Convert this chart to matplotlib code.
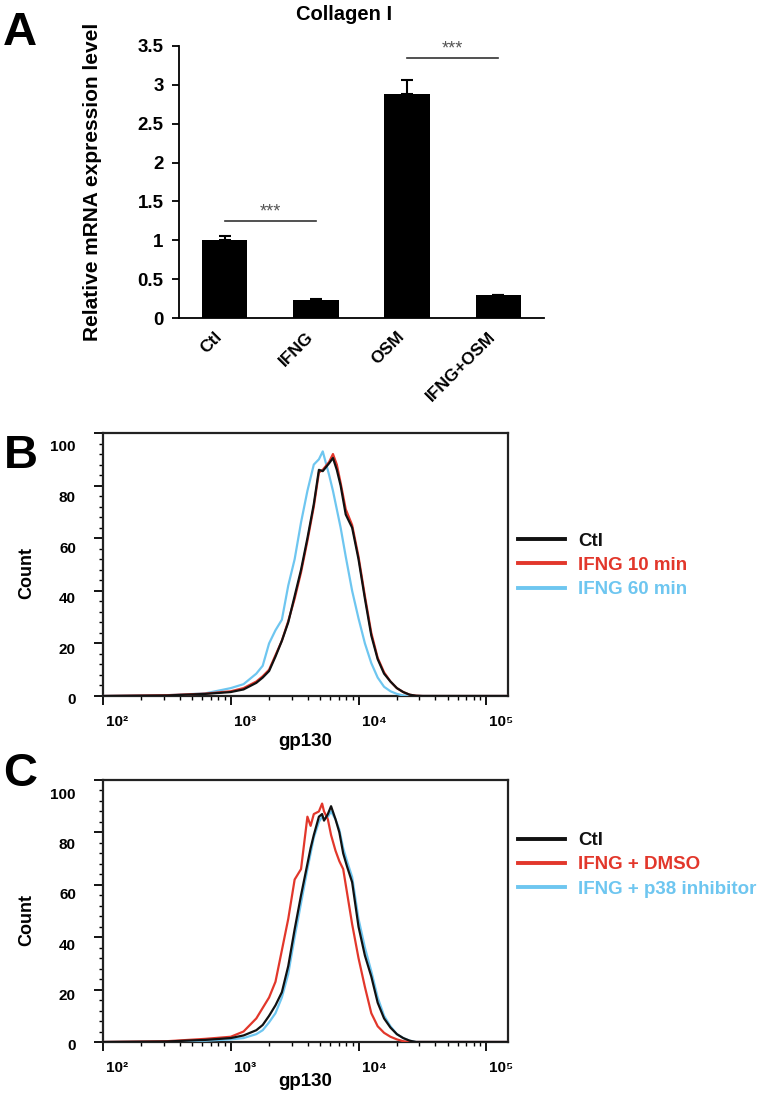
import matplotlib.pyplot as plt
import matplotlib.transforms as mtransforms
import numpy as np
from matplotlib.ticker import MultipleLocator, LogLocator, NullFormatter

plt.rcParams["font.family"] = ["Liberation Sans", "DejaVu Sans"]
plt.rcParams["font.weight"] = "bold"
plt.rcParams["axes.labelweight"] = "bold"

# ---- panel A: collagen I qPCR ----
GROUPS = ["Ctl", "IFNG", "OSM", "IFNG+OSM"]
COLLAGEN = [1.0, 0.23, 2.88, 0.29]
COLLAGEN_ERR = [0.05, 0.02, 0.18, 0.01]
A_YTICKS = [0, 0.5, 1, 1.5, 2, 2.5, 3, 3.5]
A_YLABELS = ["0", "0.5", "1", "1.5", "2", "2.5", "3", "3.5"]
SIG_PAIRS = [(0, 1, 1.25), (2, 3, 3.35)]  # (group a, group b, bar height)

# ---- panel B: gp130 flow histograms ----
B_LOG_GP130 = [2.0, 2.5, 2.8, 3.0, 3.1, 3.2, 3.25, 3.3, 3.35, 3.4, 3.45, 3.5,
               3.55, 3.6, 3.65, 3.69, 3.72, 3.745, 3.77, 3.8, 3.83, 3.86, 3.9,
               3.95, 4.0, 4.05, 4.1, 4.15, 4.2, 4.25, 4.3, 4.35, 4.4, 4.45,
               4.5, 5.17]
B_CTL = [0, 0.2, 0.8, 1.5, 2.5, 5, 7, 9.5, 15, 21, 28, 38, 48, 60, 73, 86,
         85.5, 87, 88.5, 90.5, 86, 80, 69, 64, 52, 37, 23, 14, 8.5, 5.5, 3,
         1.5, 0.5, 0.1, 0, 0]
B_10MIN = [0, 0.3, 0.9, 1.8, 3, 5.5, 7.5, 10, 15.5, 21, 28.5, 37, 47, 59, 72,
           85, 86, 87.5, 89, 92, 88, 81, 71, 65, 53, 38, 24, 14.5, 9, 5.5, 3,
           1.5, 0.5, 0.1, 0, 0]
B_60MIN = [0, 0.3, 1, 3, 4.5, 8.5, 11.5, 20, 25, 29, 42, 52, 66, 78, 88, 90,
           93, 88.5, 84, 78, 71, 64, 53, 40, 29.5, 20, 12.5, 7, 3.5, 1.8, 0.8,
           0.2, 0, 0, 0, 0]
B_LABELS = ["Ctl", "IFNG 10 min", "IFNG 60 min"]

# ---- panel C: gp130 flow histograms, p38 inhibitor ----
C_LOG_GP130 = [2.0, 2.5, 2.8, 3.0, 3.1, 3.2, 3.25, 3.3, 3.35, 3.4, 3.45, 3.5,
               3.55, 3.6, 3.625, 3.65, 3.69, 3.715, 3.73, 3.76, 3.785, 3.82,
               3.85, 3.88, 3.91, 3.95, 4.0, 4.05, 4.1, 4.15, 4.2, 4.25, 4.3,
               4.35, 4.4, 4.45, 5.17]
C_CTL = [0, 0.2, 0.8, 1.5, 2.5, 4.5, 6.5, 10, 14, 19, 29, 43, 56, 68, 74, 79,
         86, 87, 84.5, 87, 90, 85, 80, 72, 67, 61, 44, 33, 25, 15, 9, 5.5, 3,
         1.5, 0.5, 0, 0]
C_DMSO = [0, 0.3, 1.2, 2, 4, 9, 13, 17, 23, 35, 47, 62, 66, 86, 82.5, 87, 88,
          91, 88, 85, 79, 73, 69, 66, 57, 45, 32, 21, 11, 6, 3.5, 2, 1, 0.3,
          0, 0, 0]
C_P38 = [0, 0.1, 0.5, 1, 1.5, 3, 4.5, 7.5, 11, 17, 26, 40, 53, 66, 72, 78, 84,
         86, 85, 86, 88, 85, 81, 74, 69, 63, 47, 36, 27, 17, 10, 6, 3, 1.5,
         0.5, 0, 0]
C_LABELS = ["Ctl", "IFNG + DMSO", "IFNG + p38 inhibitor"]

COLORS = ["#111111", "#E2372B", "#6EC6F0"]
FLOW_YTICKS = [0, 20, 40, 60, 80, 100]
FLOW_XTICKS = [1e2, 1e3, 1e4, 1e5]
FLOW_XLABELS = ["10²", "10³", "10⁴", "10⁵"]

W, H = 762, 1097
fig = plt.figure(figsize=(W / 100, H / 100), dpi=100)


def px_box(x0, y0, x1, y1):
    return [x0 / W, 1 - y1 / H, (x1 - x0) / W, (y1 - y0) / H]


# ---------------- A ----------------
ax = fig.add_axes(px_box(179, 46, 544, 318))
x = np.arange(len(GROUPS))
ax.bar(x, COLLAGEN, width=0.5, color="black")
ax.errorbar(x, COLLAGEN, yerr=[np.zeros(len(x)), COLLAGEN_ERR], fmt="none",
            ecolor="black", elinewidth=1.5, capsize=4, capthick=1.5)
ax.set_xlim(-0.5, 3.5)
ax.set_ylim(0, 3.5)
ax.spines[["top", "right"]].set_visible(False)
for s in ("left", "bottom"):
    ax.spines[s].set_linewidth(1.3)
ax.set_yticks(A_YTICKS, A_YLABELS, fontsize=13.5)
ax.tick_params(axis="y", direction="out", length=5, width=1.3, pad=6)
ax.set_xticks(x, GROUPS, rotation=45, ha="right", fontsize=12.5)
ax.tick_params(axis="x", length=0, pad=8)
ax.set_ylabel("Relative mRNA expression level", fontsize=15)
ax.yaxis.set_label_coords(-0.211, 0.5)
for a, b, h in SIG_PAIRS:
    ax.plot([a, b], [h, h], color="#333333", lw=1.2)
    ax.text((a + b) / 2, h + 0.11, "***", ha="center", va="center",
            fontsize=13, color="#555555", fontweight="normal")
fig.text(344 / W, 1 - 14 / H, "Collagen I", ha="center", va="center", fontsize=14.5)
fig.text(3 / W, 1 - 45 / H, "A", fontsize=34, va="baseline")


# ---------------- B / C ----------------
def flow_panel(ax, log_gp130, series, legend_y, xlabel_y):
    gp130 = 10 ** np.asarray(log_gp130)
    handles = []
    for i, (label, counts, color) in enumerate(series):
        line, = ax.plot(gp130, counts, color=color, lw=1.6, label=label,
                        zorder=5 - i)
        handles.append(line)
    ax.set_xscale("log")
    ax.set_xlim(100, 10 ** 5.17)
    ax.set_ylim(0, 100)
    for s in ax.spines.values():
        s.set_linewidth(1.6)
        s.set_color("#222222")
    ax.set_xticks(FLOW_XTICKS, FLOW_XLABELS, fontsize=11)
    ax.xaxis.set_minor_locator(LogLocator(base=10, subs=np.arange(2, 10), numticks=10))
    ax.xaxis.set_minor_formatter(NullFormatter())
    ax.set_yticks(FLOW_YTICKS, [str(v) for v in FLOW_YTICKS], fontsize=11)
    ax.yaxis.set_minor_locator(MultipleLocator(4))
    ax.tick_params(axis="both", which="major", direction="out", length=6.5, width=1.3)
    ax.tick_params(axis="both", which="minor", direction="out", length=3, width=1)
    ax.tick_params(axis="y", which="major", pad=13)
    ax.tick_params(axis="x", which="major", pad=7)
    for lbl in ax.get_xticklabels():
        lbl.set_horizontalalignment("left")
        lbl.set_transform(lbl.get_transform() + mtransforms.ScaledTranslation(
            3 / 100, 0, fig.dpi_scale_trans))
    for v, lbl in zip(FLOW_YTICKS, ax.get_yticklabels()):
        lbl.set_transform(lbl.get_transform() + mtransforms.ScaledTranslation(
            0, -(3 + 0.1 * v) / 100, fig.dpi_scale_trans))
    ax.set_ylabel("Count", fontsize=13)
    ax.yaxis.set_label_coords(-0.168, 0.467)
    ax.set_xlabel("gp130", fontsize=13.5)
    ax.xaxis.set_label_coords(0.5, xlabel_y)
    leg = ax.legend(handles=handles, loc="center left",
                    bbox_to_anchor=(1.0247, legend_y), frameon=False,
                    borderpad=0, borderaxespad=0, handlelength=2.5,
                    handletextpad=0.7, labelspacing=0.38,
                    prop=dict(weight="bold", size=13.5), labelcolor="linecolor")
    for h in leg.legend_handles:
        h.set_linewidth(2.8)


ax_b = fig.add_axes(px_box(103, 433, 508, 696))
flow_panel(ax_b, B_LOG_GP130,
           list(zip(B_LABELS, [B_CTL, B_10MIN, B_60MIN], COLORS)),
           0.497, -0.141)
fig.text(4 / W, 1 - 468 / H, "B", fontsize=34, va="baseline")

ax_c = fig.add_axes(px_box(103, 780, 508, 1042))
flow_panel(ax_c, C_LOG_GP130,
           list(zip(C_LABELS, [C_CTL, C_DMSO, C_P38], COLORS)),
           0.676, -0.117)
fig.text(3 / W, 1 - 786 / H, "C", fontsize=34, va="baseline")

fig.savefig("out.png", dpi=100)
